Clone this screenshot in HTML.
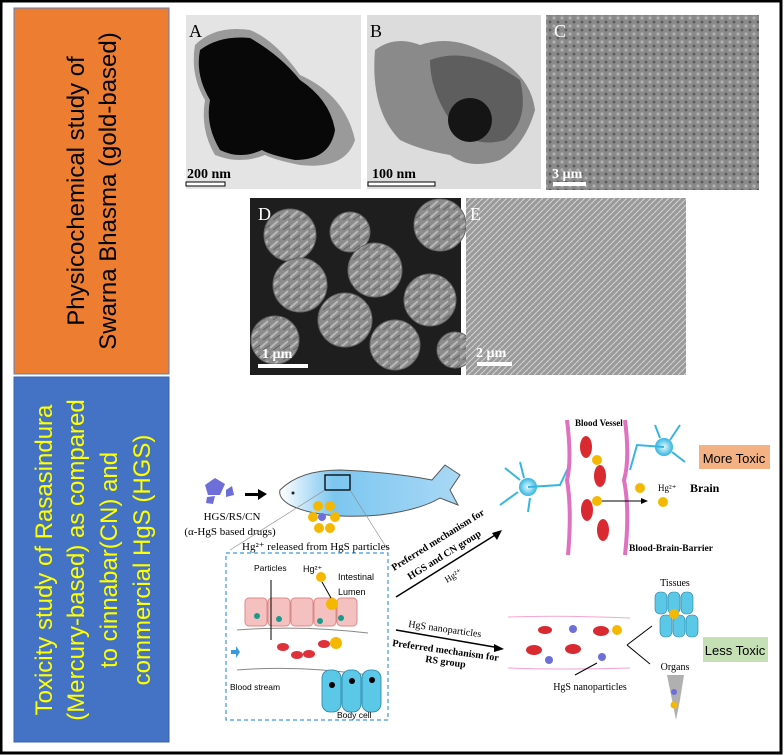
<!DOCTYPE html>
<html><head><meta charset="utf-8"><style>
html,body{margin:0;padding:0;background:#fff}
svg{display:block}
text{font-family:"Liberation Serif",serif}
.s{font-family:"Liberation Sans",sans-serif}
</style></head><body>
<svg width="784" height="756" viewBox="0 0 784 756" xmlns="http://www.w3.org/2000/svg">
<defs>
<radialGradient id="neu" cx="0.5" cy="0.5" r="0.5"><stop offset="0" stop-color="#e8fbff"/><stop offset="1" stop-color="#33b5e0"/></radialGradient>
<linearGradient id="fish" x1="0" x2="1"><stop offset="0" stop-color="#fff"/><stop offset="0.3" stop-color="#7cc6f0"/><stop offset="1" stop-color="#a9d8f5"/></linearGradient>
<pattern id="tex" width="8" height="8" patternUnits="userSpaceOnUse"><rect width="8" height="8" fill="#8a8a8a"/><circle cx="2" cy="2" r="1.6" fill="#b0b0b0"/><circle cx="6" cy="6" r="1.4" fill="#5a5a5a"/></pattern>
<pattern id="tex2" width="10" height="10" patternUnits="userSpaceOnUse"><rect width="10" height="10" fill="#8c8c8c"/><path d="M0 8 L8 1" stroke="#b8b8b8" stroke-width="2"/><path d="M3 10 L10 5" stroke="#606060" stroke-width="1"/></pattern>
<pattern id="tex3" width="6" height="6" patternUnits="userSpaceOnUse"><rect width="6" height="6" fill="#9a9a9a"/><path d="M0 3 L3 0 M3 6 L6 3" stroke="#cfcfcf" stroke-width="1.2"/></pattern>
</defs>
<rect x="1" y="1" width="780" height="752" fill="#fff" stroke="#000" stroke-width="3"/>
<rect x="14" y="8" width="155" height="366" fill="#ED7D31" stroke="#5b7fc0" stroke-width="1"/>
<text class="s" transform="translate(84,191) rotate(-90)" text-anchor="middle" font-size="24" fill="#000">Physicochemical study of</text>
<text class="s" transform="translate(116,191) rotate(-90)" text-anchor="middle" font-size="24" fill="#000">Swarna Bhasma (gold-based)</text>
<rect x="14" y="377" width="155" height="365" fill="#4472C4" stroke="#3a62aa" stroke-width="1"/>
<text class="s" transform="translate(52,560) rotate(-90)" text-anchor="middle" font-size="24" fill="#FFFF00">Toxicity study of Rasasindura</text>
<text class="s" transform="translate(84,560) rotate(-90)" text-anchor="middle" font-size="24" fill="#FFFF00">(Mercury-based) as compared</text>
<text class="s" transform="translate(117,560) rotate(-90)" text-anchor="middle" font-size="24" fill="#FFFF00">to cinnabar(CN) and</text>
<text class="s" transform="translate(150,560) rotate(-90)" text-anchor="middle" font-size="24" fill="#FFFF00">commercial HgS (HGS)</text>
<!-- A -->
<rect x="186" y="15" width="175" height="174" fill="#e4e4e4"/>
<path d="M195 45 Q215 25 250 30 Q275 40 300 75 Q345 95 355 140 Q345 170 300 165 Q275 160 265 155 Q240 165 215 155 Q200 130 205 100 Q190 75 195 45Z" fill="#9a9a9a"/>
<path d="M200 50 Q220 35 250 38 Q280 55 300 80 Q330 100 335 130 Q330 160 295 160 Q270 155 262 150 Q240 160 220 150 Q205 125 210 100 Q195 75 200 50Z" fill="#080808"/>
<text x="189" y="37" font-size="18" fill="#000">A</text>
<text x="187" y="178" font-size="14" font-weight="bold" fill="#000">200 nm</text>
<rect x="186" y="182" width="39" height="4" fill="#fff" stroke="#000" stroke-width="1"/>
<!-- B -->
<rect x="367" y="15" width="174" height="174" fill="#dcdcdc"/>
<path d="M375 50 Q395 35 420 45 Q450 35 480 50 Q530 70 535 110 Q525 145 500 160 Q470 170 450 155 Q420 150 400 140 Q370 110 375 50Z" fill="#8a8a8a"/>
<path d="M430 60 Q470 45 520 80 Q530 120 505 140 Q470 150 450 120 Q430 90 430 60Z" fill="#5e5e5e"/>
<circle cx="470" cy="120" r="22" fill="#151515"/>
<text x="370" y="37" font-size="18" fill="#000">B</text>
<text x="372" y="178" font-size="14" font-weight="bold" fill="#000">100 nm</text>
<rect x="368" y="182" width="67" height="4" fill="#fff" stroke="#000" stroke-width="1"/>
<!-- C -->
<rect x="546" y="15" width="213" height="175" fill="url(#tex)"/>
<text x="554" y="37" font-size="18" fill="#fff">C</text>
<text x="552" y="178" font-size="14" font-weight="bold" fill="#fff">3 µm</text>
<rect x="553" y="182" width="33" height="4" fill="#fff"/>
<!-- D -->
<rect x="250" y="198" width="211" height="177" fill="#1e1e1e"/>
<g fill="url(#tex2)" stroke="#666" stroke-width="1">
<circle cx="290" cy="235" r="26"/><circle cx="350" cy="232" r="20"/><circle cx="440" cy="225" r="26"/>
<circle cx="300" cy="285" r="27"/><circle cx="375" cy="270" r="27"/><circle cx="430" cy="300" r="26"/>
<circle cx="345" cy="320" r="27"/><circle cx="275" cy="340" r="24"/><circle cx="395" cy="345" r="25"/>
<circle cx="455" cy="350" r="18"/>
</g>
<text x="258" y="220" font-size="18" fill="#fff">D</text>
<text x="262" y="358" font-size="14" font-weight="bold" fill="#fff">1 µm</text>
<rect x="258" y="364" width="50" height="4" fill="#fff"/>
<!-- E -->
<rect x="466" y="198" width="220" height="177" fill="url(#tex3)"/>
<text x="470" y="220" font-size="18" fill="#fff">E</text>
<text x="476" y="357" font-size="14" font-weight="bold" fill="#fff">2 µm</text>
<rect x="477" y="362" width="35" height="4" fill="#fff"/>
<!-- bottom diagram -->
<g>
<path d="M205 485 L215 478 L225 484 L220 495 L208 495Z" fill="#6e6ed8"/>
<path d="M226 490 L232 486 L234 495 L226 497Z" fill="#6e6ed8"/>
<path d="M207 497 L215 496 L213 504 L206 503Z" fill="#6e6ed8"/>
<path d="M245 493 L258 493 L258 489 L267 494 L258 500 L258 496 L245 496Z" fill="#000"/>
<text x="232" y="520" font-size="11" text-anchor="middle">HGS/RS/CN</text>
<text x="230" y="535" font-size="11" text-anchor="middle">(α-HgS based drugs)</text>
<path d="M280 490 Q300 470 340 470 Q390 472 432 480 L445 465 L460 475 L450 490 L458 505 L440 498 Q420 510 380 515 Q320 520 290 505 Q278 498 280 490Z" fill="url(#fish)" stroke="#555" stroke-width="1"/>
<circle cx="293" cy="493" r="1.5" fill="#222"/>
<rect x="325" y="475" width="25" height="15" fill="none" stroke="#000" stroke-width="1.3"/>
<g fill="#f5b800"><circle cx="318" cy="506" r="5"/><circle cx="330" cy="506" r="5"/><circle cx="313" cy="517" r="5"/><circle cx="335" cy="517" r="5"/><circle cx="319" cy="528" r="5"/><circle cx="330" cy="528" r="5"/></g>
<circle cx="322" cy="517" r="4" fill="#6e6ed8"/>
<line x1="325" y1="490" x2="230" y2="550" stroke="#888" stroke-width="0.6"/>
<line x1="350" y1="490" x2="388" y2="550" stroke="#888" stroke-width="0.6"/>
<text x="242" y="550" font-size="11">Hg²⁺ released from HgS particles</text>
<rect x="226" y="553" width="162" height="167" fill="none" stroke="#3a9ae0" stroke-width="1.2" stroke-dasharray="4,3"/>
<text class="s" x="254" y="571" font-size="8.5">Particles</text>
<text class="s" x="303" y="572" font-size="9">Hg²⁺</text>
<circle cx="321" cy="577" r="5" fill="#f5b800"/>
<text class="s" x="338" y="580" font-size="9">Intestinal</text>
<text class="s" x="338" y="595" font-size="9">Lumen</text>
<g fill="#f5c0c0" stroke="#d88"><rect x="245" y="598" width="22" height="28" rx="4"/><rect x="268" y="598" width="22" height="28" rx="4"/><rect x="291" y="598" width="22" height="28" rx="4"/><rect x="314" y="598" width="22" height="28" rx="4"/><rect x="337" y="598" width="20" height="28" rx="4"/></g>
<g fill="#1a9a8a"><circle cx="257" cy="616" r="3"/><circle cx="279" cy="619" r="3"/><circle cx="320" cy="621" r="3"/><circle cx="341" cy="618" r="3"/></g>
<circle cx="332" cy="604" r="6" fill="#f5b800"/><circle cx="336" cy="643" r="6" fill="#f5b800"/>
<path d="M237 630 Q300 625 368 633 M237 670 Q300 665 368 675" stroke="#888" fill="none"/>
<g fill="#e0303a"><ellipse cx="283" cy="647" rx="6" ry="4"/><ellipse cx="297" cy="655" rx="6" ry="4"/><ellipse cx="309" cy="654" rx="6" ry="4"/><ellipse cx="324" cy="644" rx="6" ry="4"/></g>
<path d="M231 650 L236 650 L236 646 L240 652 L236 658 L236 654 L231 654Z" fill="#3a9ae0"/>
<line x1="271" y1="580" x2="271" y2="640" stroke="#000" stroke-width="1"/>
<line x1="322" y1="582" x2="331" y2="598" stroke="#000"/>
<text class="s" x="230" y="690" font-size="8.5">Blood stream</text>
<g fill="#5cc8e8" stroke="#2a80a0" stroke-width="0.8"><rect x="322" y="670" width="19" height="42" rx="8"/><rect x="342" y="670" width="19" height="42" rx="8"/><rect x="362" y="670" width="19" height="42" rx="8"/></g>
<g fill="#000"><circle cx="332" cy="685" r="3"/><circle cx="352" cy="681" r="3"/><circle cx="372" cy="680" r="3"/></g>
<text class="s" x="337" y="718" font-size="8.5">Body cell</text>
<!-- arrows -->
<line x1="396" y1="597" x2="500" y2="532" stroke="#000" stroke-width="1.5"/>
<path d="M502 530 L492 533 L497 540Z" fill="#000"/>
<text transform="translate(394,571) rotate(-32)" font-size="10" font-weight="bold">Preferred mechanism for</text>
<text transform="translate(410,580) rotate(-32)" font-size="10" font-weight="bold">HGS and CN group</text>
<text transform="translate(447,583) rotate(-32)" font-size="9">Hg²⁺</text>
<line x1="396" y1="630" x2="500" y2="648" stroke="#000" stroke-width="1.5"/>
<path d="M504 649 L494 644 L494 652Z" fill="#000"/>
<text transform="translate(408,627) rotate(8)" font-size="10">HgS nanoparticles</text>
<text transform="translate(392,646) rotate(8)" font-size="10" font-weight="bold">Preferred mechanism for</text>
<text transform="translate(425,662) rotate(8)" font-size="10" font-weight="bold">RS group</text>
<!-- brain -->
<circle cx="528" cy="487" r="9" fill="url(#neu)"/>
<path d="M528 487 L560 485 L568 468 M520 480 L505 468 M518 492 L500 505 M530 498 L528 512 M524 478 L520 462" stroke="#35b5e2" stroke-width="2" fill="none"/>
<path d="M567 420 Q572 460 567 480 Q572 510 568 555" stroke="#e070c0" stroke-width="4" fill="none"/>
<path d="M625 420 Q630 460 624 480 Q630 510 625 555" stroke="#e070c0" stroke-width="4" fill="none"/>
<text x="575" y="426" font-size="9" font-weight="bold">Blood Vessel</text>
<g fill="#d82a30"><ellipse cx="586" cy="447" rx="6" ry="11"/><ellipse cx="600" cy="476" rx="6" ry="11"/><ellipse cx="587" cy="510" rx="6" ry="11"/><ellipse cx="603" cy="530" rx="6" ry="11"/></g>
<g fill="#f5b800"><circle cx="597" cy="460" r="5"/><circle cx="597" cy="501" r="5"/><circle cx="640" cy="488" r="5"/><circle cx="663" cy="502" r="5"/></g>
<line x1="602" y1="501" x2="645" y2="501" stroke="#000"/><path d="M648 501 L641 498 L641 504Z" fill="#000"/>
<text x="658" y="491" font-size="9">Hg²⁺</text>
<circle cx="664" cy="447" r="9" fill="url(#neu)"/>
<path d="M664 447 L637 445 L630 470 M670 440 L680 425 M672 452 L685 462 M660 438 L655 425" stroke="#35b5e2" stroke-width="2" fill="none"/>
<rect x="699" y="445" width="71" height="24" fill="#F4B183"/>
<text class="s" x="734" y="463" font-size="13" text-anchor="middle">More Toxic</text>
<text x="690" y="492" font-size="12" font-weight="bold">Brain</text>
<text x="629" y="551" font-size="9.5" font-weight="bold">Blood-Brain-Barrier</text>
<!-- lower -->
<path d="M508 617 Q560 615 630 618 M508 668 Q560 670 630 668" stroke="#f3a6d2" fill="none"/>
<g fill="#d82a30"><ellipse cx="545" cy="630" rx="7" ry="4"/><ellipse cx="534" cy="650" rx="8" ry="5"/><ellipse cx="573" cy="649" rx="8" ry="5"/><ellipse cx="601" cy="631" rx="8" ry="5"/></g>
<g fill="#6e6ed8"><circle cx="573" cy="629" r="4"/><circle cx="549" cy="660" r="4"/><circle cx="602" cy="657" r="4"/></g>
<circle cx="617" cy="630" r="5" fill="#f5b800"/>
<text x="590" y="690" font-size="10" text-anchor="middle">HgS nanoparticles</text>
<line x1="575" y1="675" x2="597" y2="663" stroke="#000"/>
<line x1="627" y1="645" x2="652" y2="626" stroke="#000"/><line x1="627" y1="645" x2="650" y2="664" stroke="#000"/>
<text x="675" y="586" font-size="10" text-anchor="middle">Tissues</text>
<g fill="#5cc8e8" stroke="#2a80a0" stroke-width="0.6"><rect x="655" y="592" width="12" height="22" rx="5"/><rect x="668" y="592" width="12" height="22" rx="5"/><rect x="681" y="592" width="12" height="22" rx="5"/><rect x="660" y="615" width="12" height="22" rx="5"/><rect x="673" y="615" width="12" height="22" rx="5"/><rect x="686" y="615" width="12" height="22" rx="5"/></g>
<circle cx="674" cy="614" r="5" fill="#f5b800"/>
<text x="675" y="670" font-size="10" text-anchor="middle">Organs</text>
<path d="M667 675 L684 675 L680 700 L676 720 L672 700Z" fill="#b0b0b0"/>
<circle cx="674" cy="692" r="3" fill="#6e6ed8"/><circle cx="674" cy="705" r="3.5" fill="#f5b800"/>
<rect x="703" y="637" width="65" height="25" fill="#C5E0B4"/>
<text class="s" x="735" y="655" font-size="13" text-anchor="middle">Less Toxic</text>
</g>
</svg>
</body></html>
